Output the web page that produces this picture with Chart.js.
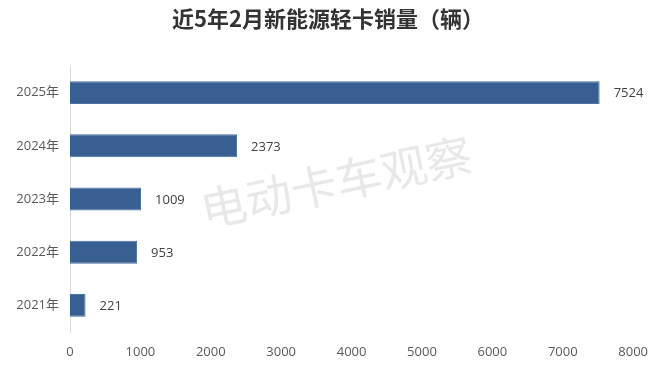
<!DOCTYPE html>
<html>
<head>
<meta charset="utf-8">
<script src="https://cdn.jsdelivr.net/npm/chart.js@4/dist/chart.umd.min.js"></script>
<style>
body{margin:0;background:#fff}
#wrap{width:660px;height:374px}
</style>
</head>
<body>
<div id="wrap"><canvas id="myChart" width="660" height="374"></canvas></div>
<script>
var titleText = '近5年2月新能源轻卡销量（辆）';
var years = ['2025年','2024年','2023年','2022年','2021年'];
var sales = [7524, 2373, 1009, 953, 221];
var xTicks = [0,1000,2000,3000,4000,5000,6000,7000,8000];

// title, watermark + value labels
var extras = {
  id: 'extras',
  beforeDatasetsDraw: function(chart) {
    var c = chart.ctx;
    c.save();
    c.font = 'bold 22px "Noto Sans CJK SC"';
    c.fillStyle = '#333333';
    c.textAlign = 'center';
    c.textBaseline = 'middle';
    c.fillText(titleText, 328, 19);
    c.restore();

    c.save();
    c.translate(336, 182);
    c.rotate(-12 * Math.PI / 180);
    c.font = '46px "Noto Sans CJK SC"';
    c.fillStyle = 'rgba(190,190,190,0.35)';
    c.textAlign = 'center';
    c.textBaseline = 'middle';
    c.fillText('电动卡车观察', 0, 0);
    c.restore();
  },
  afterDatasetsDraw: function(chart) {
    var c = chart.ctx;
    var meta = chart.getDatasetMeta(0);
    c.save();
    c.font = '13px "Open Sans", "Noto Sans"';
    c.fillStyle = '#404040';
    c.textBaseline = 'middle';
    meta.data.forEach(function(bar, i) {
      c.fillText(String(sales[i]), bar.x + 14, bar.y + 1);
    });
    c.restore();
  }
};

var ctx = document.getElementById('myChart');
var myChart = new Chart(ctx, {
  type: 'bar',
  data: {
    labels: years,
    datasets: [{
      data: sales,
      backgroundColor: '#375F91',
      borderColor: '#4A72A3',
      borderWidth: 1,
      categoryPercentage: 1,
      barPercentage: 0.43
    }]
  },
  options: {
    indexAxis: 'y',
    responsive: false,
    animation: false,
    layout: { padding: { left: 0, right: 16, top: 66, bottom: 0 } },
    plugins: {
      legend: { display: false },
      tooltip: { enabled: false },
      title: { display: false }
    },
    scales: {
      x: {
        min: 0, max: 8000,
        afterBuildTicks: function(axis) { axis.ticks = xTicks.map(function(v){ return {value: v}; }); },
        grid: { display: false, drawTicks: false },
        border: { display: false },
        ticks: {
          color: '#595959', font: { family: '"Open Sans", "Noto Sans"', size: 13 }, padding: 12, maxRotation: 0,
          callback: function(v) { return String(v); }
        },
        afterFit: function(axis) { axis.height = 42; }
      },
      y: {
        grid: { display: false, drawTicks: false },
        border: { display: true, color: '#d9d9d9', width: 1 },
        ticks: { color: '#595959', font: { family: '"Open Sans", "Noto Sans CJK SC"', size: 13 }, padding: 11 },
        afterFit: function(axis) { axis.width = 70; }
      }
    }
  },
  plugins: [extras]
});
</script>
</body>
</html>
